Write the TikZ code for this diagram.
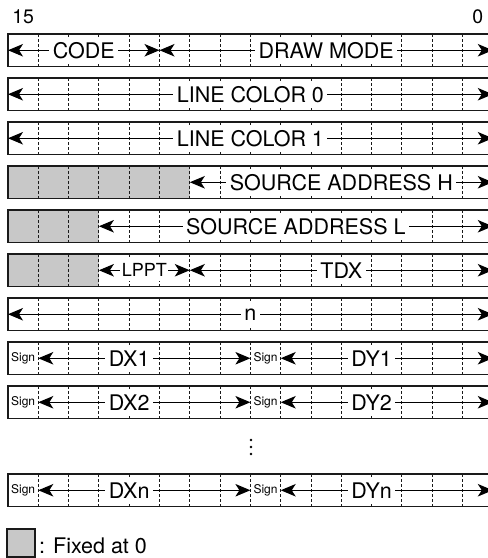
\documentclass[tikz,border=0pt]{standalone}
\usepackage{fontspec}
\setmainfont{TeX Gyre Heros}
\usetikzlibrary{arrows.meta}
\definecolor{fixgray}{HTML}{C8C8C8}
\definecolor{linegray}{HTML}{1A1A1A}
\tikzset{
  rowframe/.style={draw=linegray, line width=1.5pt},
  fixedfill/.style={fill=fixgray},
  divider/.style={draw=linegray, line width=1pt, dash pattern=on 2.5pt off 2.5pt},
  fieldarrow/.style={draw=black, line width=1.2pt, {Stealth[length=15pt,width=12.5pt,inset=4pt]}-{Stealth[length=15pt,width=12.5pt,inset=4pt]}},
  fieldlabel/.style={fill=white, inner xsep=3.5pt, inner ysep=0pt, minimum height=25pt, font=\fontsize{21.5}{24}\selectfont},
  smalllabel/.style={fill=white, inner xsep=1.5pt, inner ysep=0pt, minimum height=22pt, font=\fontsize{18}{20}\selectfont},
  signlabel/.style={inner sep=0pt, font=\fontsize{12}{13}\selectfont},
  bitlabel/.style={inner sep=0pt, font=\fontsize{19.5}{22}\selectfont},
}
% #1 row, #2 k start, #3 k end, #4 label center k, #5 style, #6 label, #7 name
\newcommand\regfield[7]{%
  \coordinate (#7-w) at ({8+30.3*#2},{50.25+44*#1});
  \coordinate (#7-e) at ({8+30.3*#3},{50.25+44*#1});
  \draw[fieldarrow] (#7-w) -- (#7-e);
  \node[#5] (#7) at ({8+30.3*#4},{50.25+44*#1}) {#6};
}
% #1 row index
\newcommand\regframe[1]{%
  \foreach \k in {1,...,15}
    \draw[divider] ({8+30.3*\k},{34+44*#1}) -- ({8+30.3*\k},{66.5+44*#1});
  \draw[rowframe] (8,{34+44*#1}) rectangle (492.8,{66.5+44*#1});
}
% #1 row, #2 k end of fixed part
\newcommand\regfixed[2]{%
  \fill[fixedfill] (8,{34+44*#1}) rectangle ({8+30.3*#2},{66.5+44*#1});
}
% #1 row, #2 k of cell, #3 name
\newcommand\regsign[3]{%
  \node[signlabel] (#3) at ({8+30.3*(#2+0.5)},{50.25+44*#1}) {Sign};
}
\begin{document}
\begin{tikzpicture}[x=1pt,y=-1pt]
\useasboundingbox (0,0) rectangle (488,558);
\clip (0,0) rectangle (488,558);

\node[bitlabel] (b15) at (23.2,17) {15};
\node[bitlabel] (b0) at (477.7,17) {0};

% row 0
\regframe{0}
\regfield{0}{0}{5}{2.5}{fieldlabel}{CODE}{code}
\regfield{0}{5}{16}{10.5}{fieldlabel}{DRAW MODE}{drawmode}

% row 1
\regframe{1}
\regfield{1}{0}{16}{8}{fieldlabel}{LINE COLOR 0}{lc0}

% row 2
\regframe{2}
\regfield{2}{0}{16}{8}{fieldlabel}{LINE COLOR 1}{lc1}

% row 3
\regfixed{3}{6}
\regframe{3}
\regfield{3}{6}{16}{11}{fieldlabel}{SOURCE ADDRESS H}{sah}

% row 4
\regfixed{4}{3}
\regframe{4}
\regfield{4}{3}{16}{9.5}{fieldlabel}{SOURCE ADDRESS L}{sal}

% row 5
\regfixed{5}{3}
\regframe{5}
\regfield{5}{3}{6}{4.5}{smalllabel}{LPPT}{lppt}
\regfield{5}{6}{16}{11}{fieldlabel}{TDX}{tdx}

% row 6
\regframe{6}
\regfield{6}{0}{16}{8}{fieldlabel}{n}{nn}

% row 7
\regframe{7}
\regsign{7}{0}{s1x}
\regfield{7}{1}{8}{4}{fieldlabel}{DX1}{dx1}
\regsign{7}{8}{s1y}
\regfield{7}{9}{16}{12}{fieldlabel}{DY1}{dy1}

% row 8
\regframe{8}
\regsign{8}{0}{s2x}
\regfield{8}{1}{8}{4}{fieldlabel}{DX2}{dx2}
\regsign{8}{8}{s2y}
\regfield{8}{9}{16}{12}{fieldlabel}{DY2}{dy2}

% ellipsis
\foreach \yy in {440,447,454}
  \fill[black] (251,\yy) circle (1.4);

% row 10
\regframe{10}
\regsign{10}{0}{snx}
\regfield{10}{1}{8}{4}{fieldlabel}{DXn}{dxn}
\regsign{10}{8}{sny}
\regfield{10}{9}{16}{12}{fieldlabel}{DYn}{dyn}

% legend
\draw[fixedfill, draw=linegray, line width=1.3pt] (7,529) rectangle (35,557);
\node[anchor=west, inner sep=0pt, font=\fontsize{21.5}{24}\selectfont] (legend) at (39,546) {: Fixed at 0};
\end{tikzpicture}
\end{document}
